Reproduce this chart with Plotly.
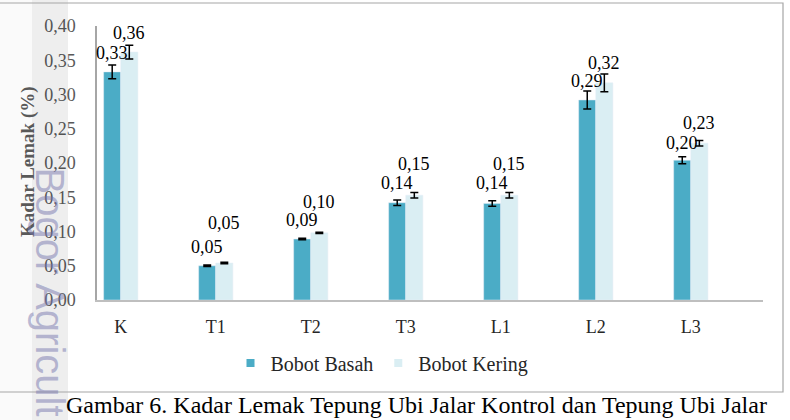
import plotly.graph_objects as go

categories = ["K", "T1", "T2", "T3", "L1", "L2", "L3"]
basah = [0.333, 0.050, 0.089, 0.142, 0.141, 0.292, 0.204]
kering = [0.362, 0.054, 0.098, 0.153, 0.153, 0.317, 0.229]
basah_err = [0.010, 0.001, 0.001, 0.004, 0.004, 0.013, 0.005]
kering_err = [0.010, 0.001, 0.001, 0.004, 0.004, 0.013, 0.004]
y_ticks = [0.0, 0.05, 0.10, 0.15, 0.20, 0.25, 0.30, 0.35, 0.40]

# label vertical offsets (px above bar top), styling only
basah_lbl_shift = [19, 19, 19, 20, 20, 19, 17]
kering_lbl_shift = [19, 40, 31, 31, 31, 20, 20]

W, H = 790, 420
L, R, T, B = 97, 27, 26, 120
pw, ph = W - L - R, H - T - B

def px(xp):
    return (xp - L) / pw

def py(yp):
    return (H - B - yp) / ph

DARK = "#4bacc6"
LIGHT = "#daeef3"
FONT = "Liberation Serif, Times New Roman, serif"

def fmt(v):
    return f"{v:.2f}".replace(".", ",")

fig = go.Figure()
fig.add_trace(go.Bar(
    x=categories, y=basah, name="Bobot Basah", marker_color=DARK,
    error_y=dict(type="data", array=basah_err, color="black", thickness=1.5, width=4),
    showlegend=False))
fig.add_trace(go.Bar(
    x=categories, y=kering, name="Bobot Kering", marker_color=LIGHT,
    error_y=dict(type="data", array=kering_err, color="black", thickness=1.5, width=4),
    showlegend=False))
# legend entries
fig.add_trace(go.Scatter(x=[None], y=[None], mode="markers", name="Bobot Basah",
                         marker=dict(symbol="square", size=8, color=DARK)))
fig.add_trace(go.Scatter(x=[None], y=[None], mode="markers", name="Bobot Kering",
                         marker=dict(symbol="square", size=8, color=LIGHT)))

annotations = []
bar_half = 0.09 * pw / 7.01
for i, c in enumerate(categories):
    annotations.append(dict(x=c, y=basah[i], xref="x", yref="y", text=fmt(basah[i]),
                            showarrow=False, xshift=-bar_half, yshift=basah_lbl_shift[i],
                            xanchor="center", yanchor="middle",
                            font=dict(family=FONT, size=18, color="black")))
    annotations.append(dict(x=c, y=kering[i], xref="x", yref="y", text=fmt(kering[i]),
                            showarrow=False, xshift=bar_half, yshift=kering_lbl_shift[i],
                            xanchor="center", yanchor="middle",
                            font=dict(family=FONT, size=18, color="black")))

# y-axis title
ytitle = dict(x=px(28), y=py(162), xref="paper", yref="paper",
              text="<b>Kadar Lemak (%)</b>", textangle=-90, showarrow=False,
              xanchor="center", yanchor="middle",
              font=dict(family=FONT, size=19, color="#595959"))
# watermark
wm = dict(x=px(50), y=py(165), xref="paper", yref="paper",
          text="Bogor Agricult", textangle=90, showarrow=False,
          xanchor="center", yanchor="top",
          font=dict(family="Liberation Sans, Arial, sans-serif", size=40,
                    color="rgba(120,120,175,0.5)"))
# caption
caption = dict(x=px(416), y=py(405), xref="paper", yref="paper",
               text="Gambar 6. Kadar Lemak Tepung Ubi Jalar Kontrol dan Tepung Ubi Jalar",
               showarrow=False, xanchor="center", yanchor="middle",
               font=dict(family=FONT, size=24, color="black"))
annotations = [ytitle, wm, caption] + annotations

shapes = [
    dict(type="rect", xref="paper", yref="paper", x0=px(0), x1=px(32), y0=py(425), y1=py(-5),
         line=dict(width=0), fillcolor="rgba(0,0,0,0.02)", layer="above"),
    dict(type="rect", xref="paper", yref="paper", x0=px(32), x1=px(68), y0=py(425), y1=py(-5),
         line=dict(width=0), fillcolor="rgba(0,0,0,0.065)", layer="above"),
    dict(type="rect", xref="paper", yref="paper", x0=px(-5), x1=px(783), y0=py(392), y1=py(3),
         line=dict(color="#a6a6a6", width=1.2), fillcolor="rgba(0,0,0,0)", layer="above"),
]

fig.update_layout(
    width=W, height=H,
    margin=dict(l=L, r=R, t=T, b=B, autoexpand=False),
    paper_bgcolor="white", plot_bgcolor="white",
    barmode="group", bargap=0.64, bargroupgap=0,
    separators=", ",
    font=dict(family=FONT, size=18, color="#404040"),
    legend=dict(orientation="h", x=px(382), xanchor="center", y=py(363), yanchor="middle",
                font=dict(family=FONT, size=20, color="#262626"), bgcolor="rgba(0,0,0,0)",
                itemwidth=30),
    annotations=annotations,
    shapes=shapes,
)
fig.update_xaxes(range=[-0.25, 6.76], showline=True, linecolor="#bfbfbf", linewidth=1.5,
                 showgrid=False, ticks="", ticklabelstandoff=10,
                 tickfont=dict(family=FONT, size=18, color="#262626"), fixedrange=True)
fig.update_yaxes(range=[0, 0.40], tickvals=y_ticks, tickformat=".2f", showline=True,
                 linecolor="#a6a6a6", linewidth=1.5, showgrid=False, zeroline=False,
                 ticks="", ticklabelstandoff=16,
                 tickfont=dict(family=FONT, size=18, color="#595959"), fixedrange=True)

fig.write_html("out.html")
